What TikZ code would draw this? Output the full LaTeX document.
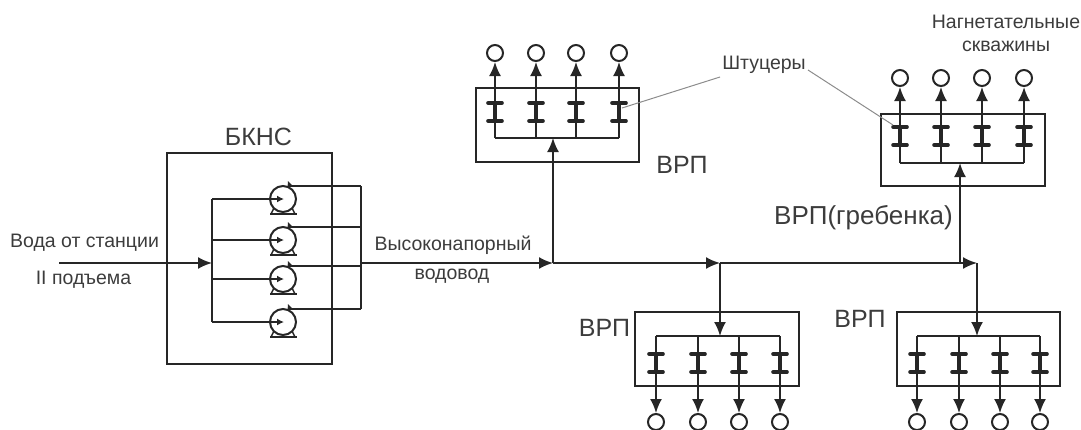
\documentclass[tikz,border=0pt]{standalone}
\usepackage{fontspec}
\setmainfont{Liberation Sans}
\usetikzlibrary{arrows.meta}
\definecolor{ink}{HTML}{262626}
\definecolor{txt}{HTML}{3C3C3C}
\tikzset{
  pipe/.style={draw=ink,line width=1.9pt},
  flow/.style={pipe,-{Latex[length=14pt,width=12pt]}},
  smallflow/.style={pipe,-{Latex[length=7pt,width=7pt]}},
  framebox/.style={draw=ink,line width=1.9pt,rectangle,inner sep=0pt},
  well/.style={draw=ink,line width=2pt,circle,fill=white,inner sep=0pt,minimum size=16pt},
  pumpbody/.style={draw=ink,line width=2pt,circle,inner sep=0pt,minimum size=26pt},
  bar/.style={draw=ink,line width=3.6pt,line cap=round},
  stem/.style={draw=ink,line width=4pt},
  leader/.style={draw=black!45,line width=1pt},
  lbl/.style={text=txt,inner sep=0pt,font=\fontsize{#1}{#1}\selectfont},
  lbl/.default=19.5
}
\newcommand{\branch}[8]{% #1 name, #2 x, #3 manifold y, #4 near bar y, #5 far bar y, #6 well y, #7 arrow start y, #8 well side anchor
  \node[well] (#1w) at (#2,#6) {};
  \coordinate (#1m) at (#2,#3);
  \coordinate (#1s) at (#2,#7);
  \draw[pipe] (#1m) -- (#1s);
  \draw[flow] (#1s) -- (#1w.#8);
  \draw[stem] (#2,#4) -- (#2,#5);
  \draw[bar] (#2-7,#4) -- (#2+7,#4);
  \draw[bar] (#2-7,#5) -- (#2+7,#5);
}
\newcommand{\pump}[2]{% #1 name, #2 centre y
  \node[pumpbody] (#1) at (283,#2) {};
  \coordinate (#1in) at (212,#2);
  \coordinate (#1out) at (361,#2-13);
  \coordinate (#1top) at (290,#2-13);
  \coordinate (#1c) at (284,#2);
  \draw[smallflow] (#1in) -- (#1c);
  \draw[pipe] (#1top) -- (#1out);
  \draw[pipe,line width=2.6pt] (283-13,#2+15) -- (283+14,#2+15);
  \draw[pipe,line width=1.4pt] (283-9,#2+9) -- (283-12,#2+15);
  \draw[pipe,line width=1.4pt] (283+9,#2+9) -- (283+12,#2+15);
  \fill[ink] (293,#2-13) -- (288,#2-18) -- (287.5,#2-11) -- cycle;
}
\begin{document}
\begin{tikzpicture}[x=1pt,y=-1pt]
\useasboundingbox (0,0) rectangle (1081,429);

% station
\node[framebox,minimum width=165pt,minimum height=211pt] (bkns) at (249.5,258.5) {};
\pump{pa}{199}
\pump{pb}{240}
\pump{pc}{279}
\pump{pd}{322}
\draw[pipe] (pain) -- (pdin);
\draw[pipe] (paout) -- (pdout);
\coordinate (src) at (59,263);
\coordinate (busin) at (212,263);
\coordinate (busout) at (361,263);
\draw[flow] (src) -- (busin);

% main line
\coordinate (j1) at (553,263);
\coordinate (j2) at (720,263);
\coordinate (j3) at (960,263);
\coordinate (j4) at (977,263);
\draw[flow] (busout) -- (j1);
\draw[flow] (j1) -- (j2);
\draw[flow] (j2) -- (j4);

% top left
\node[framebox,minimum width=163pt,minimum height=74pt] (vrpa) at (557.5,125) {};
\branch{a1}{495}{138}{121}{103}{53}{77}{south}
\branch{a2}{536}{138}{121}{103}{53}{77}{south}
\branch{a3}{576}{138}{121}{103}{53}{77}{south}
\branch{a4}{619}{138}{121}{103}{53}{77}{south}
\draw[pipe] (a1m) -- (a4m);
\coordinate (ma) at (553,138);
\draw[flow] (j1) -- (ma);

% top right
\node[framebox,minimum width=164pt,minimum height=72pt] (vrpb) at (963,150) {};
\branch{b1}{900}{163}{145}{127}{78}{102}{south}
\branch{b2}{941}{163}{145}{127}{78}{102}{south}
\branch{b3}{982}{163}{145}{127}{78}{102}{south}
\branch{b4}{1024}{163}{145}{127}{78}{102}{south}
\draw[pipe] (b1m) -- (b4m);
\coordinate (mb) at (960,163);
\draw[flow] (j3) -- (mb);

% bottom middle
\node[framebox,minimum width=164pt,minimum height=74pt] (vrpc) at (717,349) {};
\branch{c1}{656}{336}{354}{372}{422}{397}{north}
\branch{c2}{698}{336}{354}{372}{422}{397}{north}
\branch{c3}{739}{336}{354}{372}{422}{397}{north}
\branch{c4}{780}{336}{354}{372}{422}{397}{north}
\draw[pipe] (c1m) -- (c4m);
\coordinate (mc) at (720,336);
\draw[flow] (j2) -- (mc);

% bottom right
\node[framebox,minimum width=163pt,minimum height=74pt] (vrpd) at (978.5,349) {};
\branch{d1}{917}{336}{354}{372}{422}{397}{north}
\branch{d2}{959}{336}{354}{372}{422}{397}{north}
\branch{d3}{1000}{336}{354}{372}{422}{397}{north}
\branch{d4}{1040}{336}{354}{372}{422}{397}{north}
\draw[pipe] (d1m) -- (d4m);
\coordinate (md) at (977,336);
\draw[flow] (j4) -- (md);

% labels
\node[lbl=25] (tbkns) at (258.5,137) {БКНС};
\node[lbl] (tin1) at (84.5,243) {Вода от станции};
\node[lbl] (tin2) at (83.5,280) {II подъема};
\node[lbl] (thp1) at (453,245) {Высоконапорный};
\node[lbl] (thp2) at (452,276) {водовод};
\node[lbl] (tsh) at (764,65) {Штуцеры};
\node[lbl] (tnag1) at (1006,22) {Нагнетательные};
\node[lbl] (tnag2) at (1006,46) {скважины};
\node[lbl=25] (tv1) at (682,165) {ВРП};
\node[lbl=26] (tv2) at (863.5,218) {ВРП(гребенка)};
\node[lbl=25] (tv3) at (604.5,328) {ВРП};
\node[lbl=25] (tv4) at (860,319) {ВРП};

% leaders
\coordinate (la) at (720,77);
\coordinate (lb) at (808,70);
\coordinate (ta) at (622,108);
\coordinate (tb) at (893,125);
\draw[leader] (la) -- (ta);
\draw[leader] (lb) -- (tb);
\end{tikzpicture}
\end{document}
